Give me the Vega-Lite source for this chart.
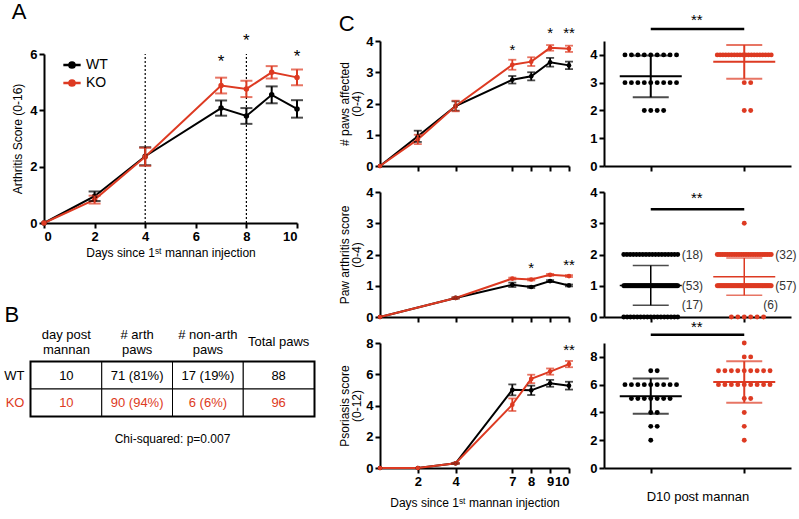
{
"$schema":"https://vega.github.io/schema/vega-lite/v6.json",
"background":"white",
"padding":{"left":2,"top":1,"right":2,"bottom":2},
"config":{
 "font":"Liberation Sans",
 "view":{"stroke":null},
 "axis":{"domainColor":"black","domainWidth":2,"tickColor":"black","tickWidth":2,"tickSize":5,"labelFont":"Liberation Sans","labelFontSize":13,"labelFontWeight":"bold","labelColor":"black","titleFont":"Liberation Sans","titleFontSize":12,"titleFontWeight":"normal","titleColor":"black","grid":false,"labelPadding":2},
 "title":{"font":"Liberation Sans","fontWeight":"normal","fontSize":22,"color":"black","anchor":"start","frame":"bounds"},
 "legend":{"labelFont":"Liberation Sans"}
},
"datasets":{
 "a":[
  {"g":"WT","d":0,"m":0,"e":0},{"g":"WT","d":2,"m":0.95,"e":0.17},{"g":"WT","d":4,"m":2.37,"e":0.32},{"g":"WT","d":7,"m":4.08,"e":0.27},{"g":"WT","d":8,"m":3.8,"e":0.28},{"g":"WT","d":9,"m":4.55,"e":0.3},{"g":"WT","d":10,"m":4.05,"e":0.31},
  {"g":"KO","d":0,"m":0,"e":0},{"g":"KO","d":2,"m":0.83,"e":0.14},{"g":"KO","d":4,"m":2.35,"e":0.32},{"g":"KO","d":7,"m":4.88,"e":0.28},{"g":"KO","d":8,"m":4.76,"e":0.29},{"g":"KO","d":9,"m":5.35,"e":0.22},{"g":"KO","d":10,"m":5.17,"e":0.28}
 ],
 "c1":[
  {"g":"WT","d":0,"m":0,"e":0},{"g":"WT","d":2,"m":0.95,"e":0.18},{"g":"WT","d":4,"m":1.92,"e":0.15},{"g":"WT","d":7,"m":2.76,"e":0.12},{"g":"WT","d":8,"m":2.87,"e":0.13},{"g":"WT","d":9,"m":3.32,"e":0.14},{"g":"WT","d":10,"m":3.22,"e":0.12},
  {"g":"KO","d":0,"m":0,"e":0},{"g":"KO","d":2,"m":0.85,"e":0.15},{"g":"KO","d":4,"m":1.92,"e":0.17},{"g":"KO","d":7,"m":3.24,"e":0.16},{"g":"KO","d":8,"m":3.34,"e":0.14},{"g":"KO","d":9,"m":3.78,"e":0.09},{"g":"KO","d":10,"m":3.75,"e":0.1}
 ],
 "c2":[
  {"g":"WT","d":0,"m":0,"e":0},{"g":"WT","d":4,"m":0.61,"e":0.02},{"g":"WT","d":7,"m":1.03,"e":0.07},{"g":"WT","d":8,"m":0.96,"e":0.03},{"g":"WT","d":9,"m":1.15,"e":0.03},{"g":"WT","d":10,"m":1.01,"e":0.03},
  {"g":"KO","d":0,"m":0,"e":0},{"g":"KO","d":4,"m":0.61,"e":0.02},{"g":"KO","d":7,"m":1.23,"e":0.03},{"g":"KO","d":8,"m":1.2,"e":0.03},{"g":"KO","d":9,"m":1.35,"e":0.03},{"g":"KO","d":10,"m":1.31,"e":0.03}
 ],
 "c3":[
  {"g":"WT","d":0,"m":0,"e":0},{"g":"WT","d":2,"m":0,"e":0},{"g":"WT","d":4,"m":0.3,"e":0.03},{"g":"WT","d":7,"m":5.0,"e":0.35},{"g":"WT","d":8,"m":4.97,"e":0.3},{"g":"WT","d":9,"m":5.42,"e":0.22},{"g":"WT","d":10,"m":5.27,"e":0.25},
  {"g":"KO","d":0,"m":0,"e":0},{"g":"KO","d":2,"m":0,"e":0},{"g":"KO","d":4,"m":0.3,"e":0.03},{"g":"KO","d":7,"m":4.05,"e":0.4},{"g":"KO","d":8,"m":5.7,"e":0.27},{"g":"KO","d":9,"m":6.17,"e":0.2},{"g":"KO","d":10,"m":6.65,"e":0.2}
 ],
 "d1":[
  {"g":"WT","v":4},{"g":"WT","v":4},{"g":"WT","v":4},{"g":"WT","v":4},{"g":"WT","v":4},{"g":"WT","v":4},{"g":"WT","v":4},{"g":"WT","v":4},{"g":"WT","v":4},
  {"g":"WT","v":3},{"g":"WT","v":3},{"g":"WT","v":3},{"g":"WT","v":3},{"g":"WT","v":3},{"g":"WT","v":3},{"g":"WT","v":3},{"g":"WT","v":3},{"g":"WT","v":3},
  {"g":"WT","v":2},{"g":"WT","v":2},{"g":"WT","v":2},{"g":"WT","v":2},
  {"g":"KO","v":4},{"g":"KO","v":4},{"g":"KO","v":4},{"g":"KO","v":4},{"g":"KO","v":4},{"g":"KO","v":4},{"g":"KO","v":4},{"g":"KO","v":4},{"g":"KO","v":4},{"g":"KO","v":4},
  {"g":"KO","v":4},{"g":"KO","v":4},{"g":"KO","v":4},{"g":"KO","v":4},{"g":"KO","v":4},{"g":"KO","v":4},{"g":"KO","v":4},{"g":"KO","v":4},{"g":"KO","v":4},{"g":"KO","v":4},
  {"g":"KO","v":3},{"g":"KO","v":3},{"g":"KO","v":2},{"g":"KO","v":2}
 ],
 "d2":[
  {"g":"WT","v":2},{"g":"WT","v":2},{"g":"WT","v":2},{"g":"WT","v":2},{"g":"WT","v":2},{"g":"WT","v":2},{"g":"WT","v":2},{"g":"WT","v":2},{"g":"WT","v":2},
  {"g":"WT","v":2},{"g":"WT","v":2},{"g":"WT","v":2},{"g":"WT","v":2},{"g":"WT","v":2},{"g":"WT","v":2},{"g":"WT","v":2},{"g":"WT","v":2},{"g":"WT","v":2},
  {"g":"WT","v":1},{"g":"WT","v":1},{"g":"WT","v":1},{"g":"WT","v":1},{"g":"WT","v":1},{"g":"WT","v":1},{"g":"WT","v":1},{"g":"WT","v":1},{"g":"WT","v":1},{"g":"WT","v":1},
  {"g":"WT","v":1},{"g":"WT","v":1},{"g":"WT","v":1},{"g":"WT","v":1},{"g":"WT","v":1},{"g":"WT","v":1},{"g":"WT","v":1},{"g":"WT","v":1},{"g":"WT","v":1},{"g":"WT","v":1},
  {"g":"WT","v":1},{"g":"WT","v":1},{"g":"WT","v":1},{"g":"WT","v":1},{"g":"WT","v":1},{"g":"WT","v":1},{"g":"WT","v":1},{"g":"WT","v":1},{"g":"WT","v":1},{"g":"WT","v":1},
  {"g":"WT","v":1},{"g":"WT","v":1},{"g":"WT","v":1},{"g":"WT","v":1},{"g":"WT","v":1},{"g":"WT","v":1},{"g":"WT","v":1},{"g":"WT","v":1},{"g":"WT","v":1},{"g":"WT","v":1},
  {"g":"WT","v":1},{"g":"WT","v":1},{"g":"WT","v":1},{"g":"WT","v":1},{"g":"WT","v":1},{"g":"WT","v":1},{"g":"WT","v":1},{"g":"WT","v":1},{"g":"WT","v":1},{"g":"WT","v":1},
  {"g":"WT","v":1},{"g":"WT","v":1},{"g":"WT","v":1},
  {"g":"WT","v":0},{"g":"WT","v":0},{"g":"WT","v":0},{"g":"WT","v":0},{"g":"WT","v":0},{"g":"WT","v":0},{"g":"WT","v":0},{"g":"WT","v":0},{"g":"WT","v":0},{"g":"WT","v":0},
  {"g":"WT","v":0},{"g":"WT","v":0},{"g":"WT","v":0},{"g":"WT","v":0},{"g":"WT","v":0},{"g":"WT","v":0},{"g":"WT","v":0},
  {"g":"KO","v":3},
  {"g":"KO","v":2},{"g":"KO","v":2},{"g":"KO","v":2},{"g":"KO","v":2},{"g":"KO","v":2},{"g":"KO","v":2},{"g":"KO","v":2},{"g":"KO","v":2},{"g":"KO","v":2},{"g":"KO","v":2},
  {"g":"KO","v":2},{"g":"KO","v":2},{"g":"KO","v":2},{"g":"KO","v":2},{"g":"KO","v":2},{"g":"KO","v":2},{"g":"KO","v":2},{"g":"KO","v":2},{"g":"KO","v":2},{"g":"KO","v":2},
  {"g":"KO","v":2},{"g":"KO","v":2},{"g":"KO","v":2},{"g":"KO","v":2},{"g":"KO","v":2},{"g":"KO","v":2},{"g":"KO","v":2},{"g":"KO","v":2},{"g":"KO","v":2},{"g":"KO","v":2},
  {"g":"KO","v":2},{"g":"KO","v":2},
  {"g":"KO","v":1},{"g":"KO","v":1},{"g":"KO","v":1},{"g":"KO","v":1},{"g":"KO","v":1},{"g":"KO","v":1},{"g":"KO","v":1},{"g":"KO","v":1},{"g":"KO","v":1},{"g":"KO","v":1},
  {"g":"KO","v":1},{"g":"KO","v":1},{"g":"KO","v":1},{"g":"KO","v":1},{"g":"KO","v":1},{"g":"KO","v":1},{"g":"KO","v":1},{"g":"KO","v":1},{"g":"KO","v":1},{"g":"KO","v":1},
  {"g":"KO","v":1},{"g":"KO","v":1},{"g":"KO","v":1},{"g":"KO","v":1},{"g":"KO","v":1},{"g":"KO","v":1},{"g":"KO","v":1},{"g":"KO","v":1},{"g":"KO","v":1},{"g":"KO","v":1},
  {"g":"KO","v":1},{"g":"KO","v":1},{"g":"KO","v":1},{"g":"KO","v":1},{"g":"KO","v":1},{"g":"KO","v":1},{"g":"KO","v":1},{"g":"KO","v":1},{"g":"KO","v":1},{"g":"KO","v":1},
  {"g":"KO","v":1},{"g":"KO","v":1},{"g":"KO","v":1},{"g":"KO","v":1},{"g":"KO","v":1},{"g":"KO","v":1},{"g":"KO","v":1},{"g":"KO","v":1},{"g":"KO","v":1},{"g":"KO","v":1},
  {"g":"KO","v":1},{"g":"KO","v":1},{"g":"KO","v":1},{"g":"KO","v":1},{"g":"KO","v":1},{"g":"KO","v":1},{"g":"KO","v":1},
  {"g":"KO","v":0},{"g":"KO","v":0},{"g":"KO","v":0},{"g":"KO","v":0},{"g":"KO","v":0},{"g":"KO","v":0}
 ],
 "d3":[
  {"g":"WT","v":7},{"g":"WT","v":7},
  {"g":"WT","v":6},{"g":"WT","v":6},{"g":"WT","v":6},{"g":"WT","v":6},{"g":"WT","v":6},{"g":"WT","v":6},{"g":"WT","v":6},{"g":"WT","v":6},{"g":"WT","v":6},
  {"g":"WT","v":5},{"g":"WT","v":5},{"g":"WT","v":5},{"g":"WT","v":5},{"g":"WT","v":5},{"g":"WT","v":5},{"g":"WT","v":5},
  {"g":"WT","v":4},{"g":"WT","v":4},{"g":"WT","v":3},{"g":"WT","v":3},{"g":"WT","v":2},
  {"g":"KO","v":9},{"g":"KO","v":8},{"g":"KO","v":8},
  {"g":"KO","v":7},{"g":"KO","v":7},{"g":"KO","v":7},{"g":"KO","v":7},{"g":"KO","v":7},{"g":"KO","v":7},{"g":"KO","v":7},{"g":"KO","v":7},{"g":"KO","v":7},
  {"g":"KO","v":6},{"g":"KO","v":6},{"g":"KO","v":6},{"g":"KO","v":6},{"g":"KO","v":6},{"g":"KO","v":6},{"g":"KO","v":6},{"g":"KO","v":6},{"g":"KO","v":6},
  {"g":"KO","v":5},{"g":"KO","v":5},{"g":"KO","v":4},{"g":"KO","v":3},{"g":"KO","v":2}
 ],
 "tbl":[
  {"row":"WT","col":"day post|mannan","text":"10"},{"row":"WT","col":"# arth|paws","text":"71 (81%)"},{"row":"WT","col":"# non-arth|paws","text":"17 (19%)"},{"row":"WT","col":"Total paws","text":"88"},
  {"row":"KO","col":"day post|mannan","text":"10"},{"row":"KO","col":"# arth|paws","text":"90 (94%)"},{"row":"KO","col":"# non-arth|paws","text":"6 (6%)"},{"row":"KO","col":"Total paws","text":"96"}
 ]
},
"concat":[
 {"vconcat":[
  {
   "width":253,"height":182,
   "title":{"text":"A","offset":8},
   "data":{"name":"a"},
   "encoding":{"x":{"field":"d","type":"quantitative","scale":{"domain":[0,10],"nice":false},"axis":{"values":[0,2,4,6,8,10],"title":"Days since 1ˢᵗ mannan injection","titlePadding":4}}},
   "layer":[
    {"data":{"values":[{"d":4,"lo":0,"hi":6},{"d":8,"lo":0,"hi":6}]},"mark":{"type":"rule","strokeDash":[2,2],"strokeWidth":1.2,"color":"black"},
     "encoding":{"y":{"field":"lo","type":"quantitative","scale":{"domain":[0,6],"nice":false,"range":[182,13]},"axis":{"values":[0,2,4,6],"title":"Arthritis Score (0-16)","titlePadding":5}},"y2":{"field":"hi"}}},
    {"mark":{"type":"line","strokeWidth":2,"point":{"filled":true,"size":30}},
     "encoding":{"y":{"field":"m","type":"quantitative","scale":{"domain":[0,6],"nice":false,"range":[182,13]},"axis":{"values":[0,2,4,6],"title":"Arthritis Score (0-16)","titlePadding":5}},
      "color":{"field":"g","type":"nominal","scale":{"domain":["WT","KO"],"range":["black","#dd3a22"]},"legend":{"title":null,"orient":"none","legendX":18,"legendY":14,"labelFontSize":14,"symbolType":"M-1,0L1,0M0.3,0A0.3,0.3,0,1,1,-0.3,0A0.3,0.3,0,1,1,0.3,0Z","symbolStrokeWidth":2.5,"symbolSize":300,"rowPadding":0}}}},
    {"transform":[{"filter":"datum.e > 0"}],"mark":{"type":"errorbar","ticks":true,"size":12,"thickness":2},
     "encoding":{"y":{"field":"m","type":"quantitative","scale":{"domain":[0,6],"nice":false,"range":[182,13]},"axis":{"values":[0,2,4,6],"title":"Arthritis Score (0-16)","titlePadding":5}},"yError":{"field":"e"},"color":{"field":"g","type":"nominal","scale":{"domain":["WT","KO"],"range":["black","#dd3a22"]},"legend":null}}},
    {"data":{"values":[{"d":7,"m":5.7,"s":"*"},{"d":8,"m":6.45,"s":"*"},{"d":10,"m":5.9,"s":"*"}]},"mark":{"type":"text","fontSize":17,"baseline":"middle"},
     "encoding":{"y":{"field":"m","type":"quantitative","scale":{"domain":[0,6],"nice":false,"range":[182,13]},"axis":{"values":[0,2,4,6],"title":"Arthritis Score (0-16)","titlePadding":5}},"text":{"field":"s"}}}
   ]
  },
  {
   "width":283,"height":54,
   "view":{"stroke":"black","strokeWidth":3},
   "title":{"text":"Chi-squared: p=0.007","orient":"bottom","anchor":"middle","frame":"group","fontSize":12,"offset":17},
   "data":{"name":"tbl"},
   "encoding":{
    "x":{"field":"col","type":"nominal","sort":null,"scale":{"paddingInner":0,"paddingOuter":0},"axis":{"orient":"top","title":null,"domain":false,"ticks":false,"labelAngle":0,"labelExpr":"split(datum.label, '|')","labelFontWeight":"normal","labelFontSize":13,"labelLineHeight":15,"labelBaseline":"bottom","labelPadding":{"condition":{"test":"datum.value === 'Total paws'","value":14},"value":21},"labelLimit":0}},
    "y":{"field":"row","type":"nominal","sort":null,"scale":{"paddingInner":0,"paddingOuter":0},"axis":{"title":"B","titleAngle":0,"titleX":-27,"titleY":-41,"titleAlign":"left","titleBaseline":"alphabetic","titleFontSize":22,"domain":false,"ticks":false,"labelFontWeight":"normal","labelFontSize":13,"labelPadding":7,"labelColor":{"condition":{"test":"datum.value === 'KO'","value":"#dd3a22"},"value":"black"}}}
   },
   "layer":[
    {"mark":{"type":"rect","fill":"white","stroke":"black","strokeWidth":1}},
    {"mark":{"type":"text","fontSize":13},"encoding":{"text":{"field":"text"},"color":{"field":"row","type":"nominal","scale":{"domain":["WT","KO"],"range":["black","#dd3a22"]},"legend":null}}}
   ]
  }
 ],"center":true,"spacing":43,"resolve":{"scale":{"color":"independent"}}},
 {"concat":[
  {
   "width":189,"height":125,
   "title":{"text":"C","offset":-10},
   "data":{"name":"c1"},
   "encoding":{"x":{"field":"d","type":"quantitative","scale":{"domain":[0,10],"nice":false},"axis":{"values":[2,4,7,8,9,10],"labels":false,"title":null}}},
   "layer":[
    {"mark":{"type":"line","strokeWidth":2,"point":{"filled":true,"size":22}},
     "encoding":{"y":{"field":"m","type":"quantitative","scale":{"domain":[0,4],"nice":false},"axis":{"values":[0,1,2,3,4],"title":["# paws affected","(0-4)"],"titlePadding":2,"titleLineHeight":12}},
      "color":{"field":"g","type":"nominal","scale":{"domain":["WT","KO"],"range":["black","#dd3a22"]},"legend":null}}},
    {"transform":[{"filter":"datum.e > 0"}],"mark":{"type":"errorbar","ticks":true,"size":8,"thickness":1.8},
     "encoding":{"y":{"field":"m","type":"quantitative","scale":{"domain":[0,4],"nice":false},"axis":{"values":[0,1,2,3,4],"title":["# paws affected","(0-4)"],"titlePadding":2,"titleLineHeight":12}},"yError":{"field":"e"},"color":{"field":"g","type":"nominal","scale":{"domain":["WT","KO"],"range":["black","#dd3a22"]},"legend":null}}},
    {"data":{"values":[{"d":7,"m":3.7,"s":"*"},{"d":9,"m":4.25,"s":"*"},{"d":10,"m":4.25,"s":"**"}]},"mark":{"type":"text","fontSize":15,"baseline":"middle"},
     "encoding":{"y":{"field":"m","type":"quantitative","scale":{"domain":[0,4],"nice":false},"axis":{"values":[0,1,2,3,4],"title":["# paws affected","(0-4)"],"titlePadding":2,"titleLineHeight":12}},"text":{"field":"s"}}}
   ]
  },
  {
   "width":187,"height":125,
   "data":{"name":"d1"},
   "encoding":{"x":{"field":"g","type":"nominal","scale":{"type":"point","domain":["WT","KO"],"padding":0.5},"axis":{"labels":false,"title":null}}},
   "layer":[
    {"transform":[{"joinaggregate":[{"op":"count","as":"n"}],"groupby":["g","v"]},{"filter":"datum.n > 9"},{"window":[{"op":"row_number","as":"i"}],"groupby":["g","v"]},{"window":[{"op":"percent_rank","as":"pr"}],"groupby":["g","v"],"sort":[{"field":"i"}]}],
     "mark":{"type":"circle","size":24,"opacity":1},
     "encoding":{"y":{"field":"v","type":"quantitative","scale":{"domain":[0,4.5],"nice":false},"axis":{"values":[0,1,2,3,4],"title":null}},"xOffset":{"field":"pr","type":"quantitative","scale":{"domain":[0,1],"range":[-27,27]}},"color":{"field":"g","type":"nominal","scale":{"domain":["WT","KO"],"range":["black","#dd3a22"]},"legend":null}}},
    {"transform":[{"joinaggregate":[{"op":"count","as":"n"}],"groupby":["g","v"]},{"filter":"datum.n <= 9"},{"window":[{"op":"row_number","as":"r"}],"groupby":["g","v"]}],
     "mark":{"type":"circle","size":24,"opacity":1},
     "encoding":{"y":{"field":"v","type":"quantitative","scale":{"domain":[0,4.5],"nice":false},"axis":{"values":[0,1,2,3,4],"title":null}},"xOffset":{"field":"r","type":"ordinal","scale":{"type":"point","domain":[9,7,5,3,1,2,4,6,8],"range":[-29,29]}},"color":{"field":"g","type":"nominal","scale":{"domain":["WT","KO"],"range":["black","#dd3a22"]},"legend":null}}},
    {"mark":{"type":"tick","size":62,"thickness":2},"encoding":{"y":{"aggregate":"mean","field":"v","type":"quantitative","scale":{"domain":[0,4.5],"nice":false},"axis":{"values":[0,1,2,3,4],"title":null}},"color":{"field":"g","type":"nominal","scale":{"domain":["WT","KO"],"range":["black","#dd3a22"]},"legend":null}}},
    {"mark":{"type":"errorbar","extent":"stdev","ticks":true,"size":36,"thickness":2},"encoding":{"y":{"field":"v","type":"quantitative","scale":{"domain":[0,4.5],"nice":false},"axis":{"values":[0,1,2,3,4],"title":null}},"color":{"field":"g","type":"nominal","scale":{"domain":["WT","KO"],"range":["black","#dd3a22"]},"legend":null}}},
    {"data":{"values":[{"v":4.93,"s":"**"}]},"mark":{"type":"rule","strokeWidth":2.5,"color":"black"},"encoding":{"x":{"datum":"WT"},"x2":{"datum":"KO"},"y":{"field":"v","type":"quantitative","scale":{"domain":[0,4.5],"nice":false},"axis":{"values":[0,1,2,3,4],"title":null}}}},
    {"data":{"values":[{"v":4.93,"s":"**"}]},"mark":{"type":"text","fontSize":15,"dx":46,"dy":-9,"baseline":"middle"},"encoding":{"x":{"datum":"WT"},"y":{"field":"v","type":"quantitative","scale":{"domain":[0,4.5],"nice":false},"axis":{"values":[0,1,2,3,4],"title":null}},"text":{"field":"s"}}}
   ],
   "resolve":{"scale":{"xOffset":"independent"}}
  },
  {
   "width":189,"height":125,
   "data":{"name":"c2"},
   "encoding":{"x":{"field":"d","type":"quantitative","scale":{"domain":[0,10],"nice":false},"axis":{"values":[2,4,7,8,9,10],"labels":false,"title":null}}},
   "layer":[
    {"mark":{"type":"line","strokeWidth":2,"point":{"filled":true,"size":22}},
     "encoding":{"y":{"field":"m","type":"quantitative","scale":{"domain":[0,4],"nice":false},"axis":{"values":[0,1,2,3,4],"title":["Paw arthritis score","(0-4)"],"titlePadding":2,"titleLineHeight":12}},
      "color":{"field":"g","type":"nominal","scale":{"domain":["WT","KO"],"range":["black","#dd3a22"]},"legend":null}}},
    {"transform":[{"filter":"datum.e > 0"}],"mark":{"type":"errorbar","ticks":true,"size":8,"thickness":1.8},
     "encoding":{"y":{"field":"m","type":"quantitative","scale":{"domain":[0,4],"nice":false},"axis":{"values":[0,1,2,3,4],"title":["Paw arthritis score","(0-4)"],"titlePadding":2,"titleLineHeight":12}},"yError":{"field":"e"},"color":{"field":"g","type":"nominal","scale":{"domain":["WT","KO"],"range":["black","#dd3a22"]},"legend":null}}},
    {"data":{"values":[{"d":8,"m":1.57,"s":"*"},{"d":10,"m":1.65,"s":"**"}]},"mark":{"type":"text","fontSize":15,"baseline":"middle"},
     "encoding":{"y":{"field":"m","type":"quantitative","scale":{"domain":[0,4],"nice":false},"axis":{"values":[0,1,2,3,4],"title":["Paw arthritis score","(0-4)"],"titlePadding":2,"titleLineHeight":12}},"text":{"field":"s"}}}
   ]
  },
  {
   "width":187,"height":125,
   "data":{"name":"d2"},
   "encoding":{"x":{"field":"g","type":"nominal","scale":{"type":"point","domain":["WT","KO"],"padding":0.5},"axis":{"labels":false,"title":null}}},
   "layer":[
    {"transform":[{"joinaggregate":[{"op":"count","as":"n"}],"groupby":["g","v"]},{"filter":"datum.n > 9"},{"window":[{"op":"row_number","as":"i"}],"groupby":["g","v"]},{"window":[{"op":"percent_rank","as":"pr"}],"groupby":["g","v"],"sort":[{"field":"i"}]}],
     "mark":{"type":"circle","size":24,"opacity":1},
     "encoding":{"y":{"field":"v","type":"quantitative","scale":{"domain":[0,4],"nice":false},"axis":{"values":[0,1,2,3,4],"title":null}},"xOffset":{"field":"pr","type":"quantitative","scale":{"domain":[0,1],"range":[-27,27]}},"color":{"field":"g","type":"nominal","scale":{"domain":["WT","KO"],"range":["black","#dd3a22"]},"legend":null}}},
    {"transform":[{"joinaggregate":[{"op":"count","as":"n"}],"groupby":["g","v"]},{"filter":"datum.n <= 9"},{"window":[{"op":"row_number","as":"r"}],"groupby":["g","v"]}],
     "mark":{"type":"circle","size":24,"opacity":1},
     "encoding":{"y":{"field":"v","type":"quantitative","scale":{"domain":[0,4],"nice":false},"axis":{"values":[0,1,2,3,4],"title":null}},"xOffset":{"field":"r","type":"ordinal","scale":{"type":"point","domain":[9,7,5,3,1,2,4,6,8],"range":[-29,29]}},"color":{"field":"g","type":"nominal","scale":{"domain":["WT","KO"],"range":["black","#dd3a22"]},"legend":null}}},
    {"mark":{"type":"tick","size":62,"thickness":1.5},"encoding":{"y":{"aggregate":"mean","field":"v","type":"quantitative","scale":{"domain":[0,4],"nice":false},"axis":{"values":[0,1,2,3,4],"title":null}},"color":{"field":"g","type":"nominal","scale":{"domain":["WT","KO"],"range":["#333333","#dd3a22"]},"legend":null}}},
    {"mark":{"type":"errorbar","extent":"stdev","ticks":true,"size":36,"thickness":1.5},"encoding":{"y":{"field":"v","type":"quantitative","scale":{"domain":[0,4],"nice":false},"axis":{"values":[0,1,2,3,4],"title":null}},"color":{"field":"g","type":"nominal","scale":{"domain":["WT","KO"],"range":["#333333","#dd3a22"]},"legend":null}}},
    {"data":{"values":[{"v":3.45,"s":"**"}]},"mark":{"type":"rule","strokeWidth":2.5,"color":"black"},"encoding":{"x":{"datum":"WT"},"x2":{"datum":"KO"},"y":{"field":"v","type":"quantitative","scale":{"domain":[0,4],"nice":false},"axis":{"values":[0,1,2,3,4],"title":null}}}},
    {"data":{"values":[{"v":3.45,"s":"**"}]},"mark":{"type":"text","fontSize":15,"dx":46,"dy":-11,"baseline":"middle"},"encoding":{"x":{"datum":"WT"},"y":{"field":"v","type":"quantitative","scale":{"domain":[0,4],"nice":false},"axis":{"values":[0,1,2,3,4],"title":null}},"text":{"field":"s"}}},
    {"data":{"values":[{"g":"WT","v":2,"t":"(18)"},{"g":"WT","v":1,"t":"(53)"},{"g":"KO","v":2,"t":"(32)"},{"g":"KO","v":1,"t":"(57)"}]},"mark":{"type":"text","fontSize":12,"dx":31,"align":"left","baseline":"middle","color":"#333333"},"encoding":{"y":{"field":"v","type":"quantitative","scale":{"domain":[0,4],"nice":false},"axis":{"values":[0,1,2,3,4],"title":null}},"text":{"field":"t"}}},
    {"data":{"values":[{"g":"WT","v":0,"t":"(17)"}]},"mark":{"type":"text","fontSize":12,"dx":31,"dy":-12,"align":"left","baseline":"middle","color":"#333333"},"encoding":{"y":{"field":"v","type":"quantitative","scale":{"domain":[0,4],"nice":false},"axis":{"values":[0,1,2,3,4],"title":null}},"text":{"field":"t"}}},
    {"data":{"values":[{"g":"KO","v":0,"t":"(6)"}]},"mark":{"type":"text","fontSize":12,"dx":19,"dy":-12,"align":"left","baseline":"middle","color":"#333333"},"encoding":{"y":{"field":"v","type":"quantitative","scale":{"domain":[0,4],"nice":false},"axis":{"values":[0,1,2,3,4],"title":null}},"text":{"field":"t"}}}
   ],
   "resolve":{"scale":{"xOffset":"independent"}}
  },
  {
   "width":189,"height":125,
   "data":{"name":"c3"},
   "encoding":{"x":{"field":"d","type":"quantitative","scale":{"domain":[0,10],"nice":false},"axis":{"values":[2,4,7,8,9,10],"title":"Days since 1ˢᵗ mannan injection","titlePadding":9}}},
   "layer":[
    {"mark":{"type":"line","strokeWidth":2,"point":{"filled":true,"size":22}},
     "encoding":{"y":{"field":"m","type":"quantitative","scale":{"domain":[0,8],"nice":false},"axis":{"values":[0,2,4,6,8],"title":["Psoriasis score","(0-12)"],"titlePadding":2,"titleLineHeight":12}},
      "color":{"field":"g","type":"nominal","scale":{"domain":["WT","KO"],"range":["black","#dd3a22"]},"legend":null}}},
    {"transform":[{"filter":"datum.e > 0"}],"mark":{"type":"errorbar","ticks":true,"size":8,"thickness":1.8},
     "encoding":{"y":{"field":"m","type":"quantitative","scale":{"domain":[0,8],"nice":false},"axis":{"values":[0,2,4,6,8],"title":["Psoriasis score","(0-12)"],"titlePadding":2,"titleLineHeight":12}},"yError":{"field":"e"},"color":{"field":"g","type":"nominal","scale":{"domain":["WT","KO"],"range":["black","#dd3a22"]},"legend":null}}},
    {"data":{"values":[{"d":10,"m":7.57,"s":"**"}]},"mark":{"type":"text","fontSize":15,"baseline":"middle"},
     "encoding":{"y":{"field":"m","type":"quantitative","scale":{"domain":[0,8],"nice":false},"axis":{"values":[0,2,4,6,8],"title":["Psoriasis score","(0-12)"],"titlePadding":2,"titleLineHeight":12}},"text":{"field":"s"}}}
   ]
  },
  {
   "width":187,"height":125,
   "data":{"name":"d3"},
   "encoding":{"x":{"field":"g","type":"nominal","scale":{"type":"point","domain":["WT","KO"],"padding":0.5},"axis":{"labels":false,"title":"D10 post mannan","titleFontSize":13,"titlePadding":16}}},
   "layer":[
    {"transform":[{"joinaggregate":[{"op":"count","as":"n"}],"groupby":["g","v"]},{"filter":"datum.n > 9"},{"window":[{"op":"row_number","as":"i"}],"groupby":["g","v"]},{"window":[{"op":"percent_rank","as":"pr"}],"groupby":["g","v"],"sort":[{"field":"i"}]}],
     "mark":{"type":"circle","size":24,"opacity":1},
     "encoding":{"y":{"field":"v","type":"quantitative","scale":{"domain":[0,9],"nice":false},"axis":{"values":[0,2,4,6,8],"title":null}},"xOffset":{"field":"pr","type":"quantitative","scale":{"domain":[0,1],"range":[-27,27]}},"color":{"field":"g","type":"nominal","scale":{"domain":["WT","KO"],"range":["black","#dd3a22"]},"legend":null}}},
    {"transform":[{"joinaggregate":[{"op":"count","as":"n"}],"groupby":["g","v"]},{"filter":"datum.n <= 9"},{"window":[{"op":"row_number","as":"r"}],"groupby":["g","v"]}],
     "mark":{"type":"circle","size":24,"opacity":1},
     "encoding":{"y":{"field":"v","type":"quantitative","scale":{"domain":[0,9],"nice":false},"axis":{"values":[0,2,4,6,8],"title":null}},"xOffset":{"field":"r","type":"ordinal","scale":{"type":"point","domain":[9,7,5,3,1,2,4,6,8],"range":[-29,29]}},"color":{"field":"g","type":"nominal","scale":{"domain":["WT","KO"],"range":["black","#dd3a22"]},"legend":null}}},
    {"mark":{"type":"tick","size":62,"thickness":2},"encoding":{"y":{"aggregate":"mean","field":"v","type":"quantitative","scale":{"domain":[0,9],"nice":false},"axis":{"values":[0,2,4,6,8],"title":null}},"color":{"field":"g","type":"nominal","scale":{"domain":["WT","KO"],"range":["black","#dd3a22"]},"legend":null}}},
    {"mark":{"type":"errorbar","extent":"stdev","ticks":true,"size":36,"thickness":2},"encoding":{"y":{"field":"v","type":"quantitative","scale":{"domain":[0,9],"nice":false},"axis":{"values":[0,2,4,6,8],"title":null}},"color":{"field":"g","type":"nominal","scale":{"domain":["WT","KO"],"range":["black","#dd3a22"]},"legend":null}}},
    {"data":{"values":[{"v":9.6,"s":"**"}]},"mark":{"type":"rule","strokeWidth":2.5,"color":"black"},"encoding":{"x":{"datum":"WT"},"x2":{"datum":"KO"},"y":{"field":"v","type":"quantitative","scale":{"domain":[0,9],"nice":false},"axis":{"values":[0,2,4,6,8],"title":null}}}},
    {"data":{"values":[{"v":9.6,"s":"**"}]},"mark":{"type":"text","fontSize":15,"dx":46,"dy":-8,"baseline":"middle"},"encoding":{"x":{"datum":"WT"},"y":{"field":"v","type":"quantitative","scale":{"domain":[0,9],"nice":false},"axis":{"values":[0,2,4,6,8],"title":null}},"text":{"field":"s"}}}
   ],
   "resolve":{"scale":{"xOffset":"independent"}}
  }
 ],"columns":2,"bounds":"flush","spacing":{"row":26,"column":35},"resolve":{"scale":{"color":"independent","xOffset":"independent"}}}
],
"columns":2,
"align":"none",
"spacing":22,
"resolve":{"scale":{"color":"independent","xOffset":"independent"}}
}
